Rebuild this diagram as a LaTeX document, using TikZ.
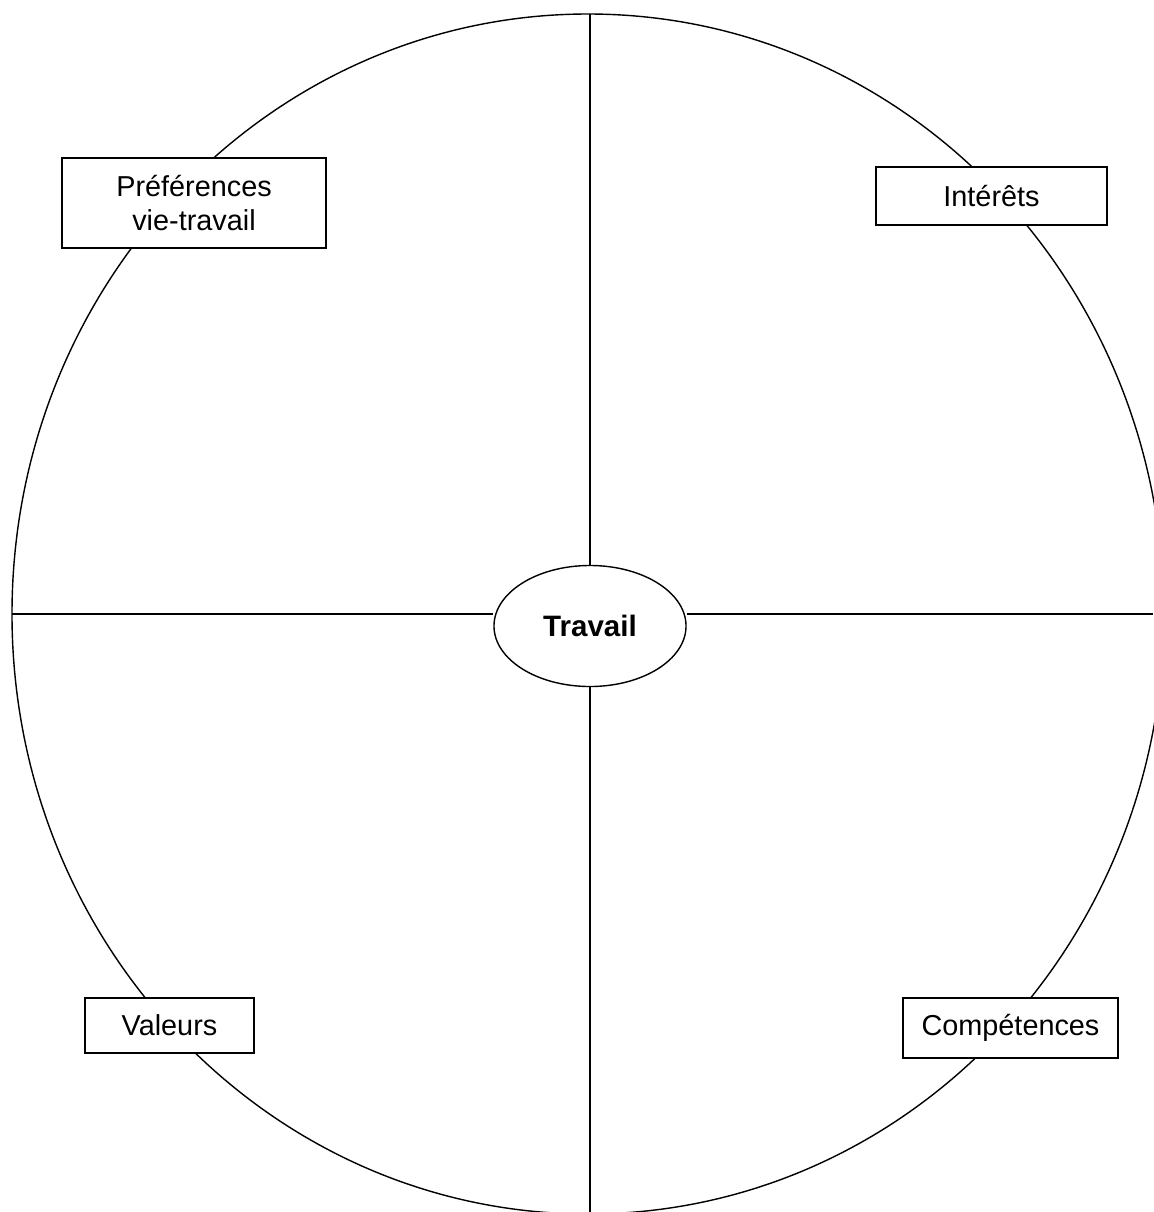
\documentclass[tikz,border=0pt]{standalone}
\usepackage{fontspec}
\setmainfont{Liberation Sans}
\usetikzlibrary{shapes.geometric}

\begin{document}
\begin{tikzpicture}[
      x=0.025cm,y=-0.025cm,
      labelbox/.style={draw,fill=white,line width=1.3pt,align=center,inner sep=0pt,
        font=\fontsize{20.5}{24.5}\selectfont},
      spoke/.style={line width=1.3pt}
      ]

	      \useasboundingbox (0,0) rectangle (1153,1212);

	      % the wheel
	      \draw[line width=1pt] (588,614) ellipse [x radius=576, y radius=600];
	      \coordinate (rimtop) at (590,14);
	      \coordinate (rimbottom) at (590,1212);
	      \coordinate (rimleft) at (12,614);
	      \coordinate (rimright) at (1153,614);

	      \node[ellipse,draw,line width=1pt,minimum width=4.8cm,minimum height=3.025cm,
	        font=\fontsize{21}{25}\selectfont\bfseries] (travail) at (590,626) {Travail};

	      \draw[spoke] (rimtop) -- (travail.north);
	      \draw[spoke] (travail.south) -- (rimbottom);
	      \draw[spoke] (rimleft) -- (rimleft -| travail.west);
	      \draw[spoke] (rimright -| travail.east) -- (rimright);

	      % the four labels
	      \node[labelbox,minimum width=6.6cm,minimum height=2.25cm] (preferences) at (194,203) {Préférences\\vie-travail};
	      \node[labelbox,minimum width=5.775cm,minimum height=1.45cm] (interets) at (991.5,196) {Intérêts};
	      \node[labelbox,minimum width=4.225cm,minimum height=1.375cm] (valeurs) at (169.5,1025.5) {Valeurs};
	      \node[labelbox,minimum width=5.375cm,minimum height=1.5cm] (competences) at (1010.5,1028) {Compétences};

\end{tikzpicture}
\end{document}
